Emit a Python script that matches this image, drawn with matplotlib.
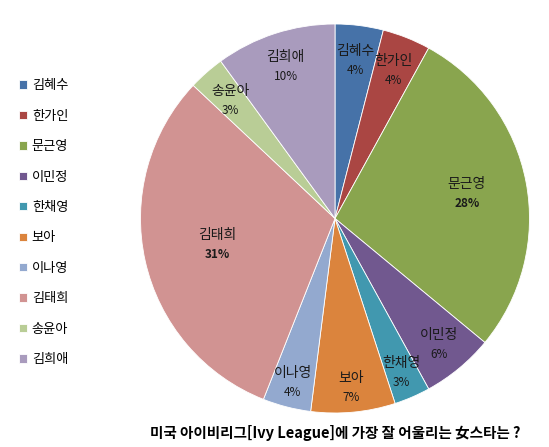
import matplotlib
matplotlib.use('Agg')
import matplotlib.pyplot as plt
import numpy as np

plt.rcParams['font.family'] = ['Noto Sans CJK KR', 'DejaVu Sans']

names = ['김혜수', '한가인', '문근영', '이민정', '한채영',
         '보아', '이나영', '김태희', '송윤아', '김희애']
shares = [4, 4, 28, 6, 3, 7, 4, 31, 3, 10]
colors = ['#4672A8', '#AA4643', '#89A54E', '#71588F', '#4198AF',
          '#DB843D', '#93A9CF', '#D19392', '#B9CD96', '#A99BBD']
title = '미국 아이비리그[Ivy League]에 가장 잘 어울리는 女스타는 ?'

# label distance from centre (fraction of radius), like Excel's best fit
label_r = [0.82, 0.82, 0.69, 0.84, 0.86, 0.87, 0.87, 0.62, 0.81, 0.82]
bold = [False, False, True, False, False, False, False, True, False, False]

W, H = 549, 447
fig = plt.figure(figsize=(W / 100, H / 100), dpi=100)
cx, cy, R = 335, 218.5, 194.5
ax = fig.add_axes([(cx - R) / W, (H - cy - R) / H, 2 * R / W, 2 * R / H])

wedges, _ = ax.pie(shares, colors=colors, startangle=90, counterclock=False,
                   radius=1, wedgeprops=dict(edgecolor='white', linewidth=0.6))
ax.set_xlim(-1, 1)
ax.set_ylim(-1, 1)
ax.set_aspect('equal')
ax.axis('off')

for w, n, s, r, b in zip(wedges, names, shares, label_r, bold):
    ang = np.deg2rad((w.theta1 + w.theta2) / 2)
    x, y = r * np.cos(ang), r * np.sin(ang)
    ax.text(x, y + 0.048, n, ha='center', va='center', fontsize=10,
            color='#1a1a1a')
    ax.text(x, y - 0.052, f'{s}%', ha='center', va='center', fontsize=8.5,
            color='#1a1a1a', fontweight='bold' if b else 'normal')

fig.legend(wedges, names, loc='upper left', bbox_to_anchor=(14 / W, 1 - 74 / H),
           frameon=False, fontsize=9.5, handlelength=0.6, handleheight=0.6,
           handletextpad=0.35, labelspacing=1.32, borderaxespad=0)

fig.text(150 / W, 1 - 433 / H, title, ha='left', va='center',
         fontsize=10.5, fontweight='bold', color='black')

fig.savefig('out.png', dpi=100, facecolor='white')
